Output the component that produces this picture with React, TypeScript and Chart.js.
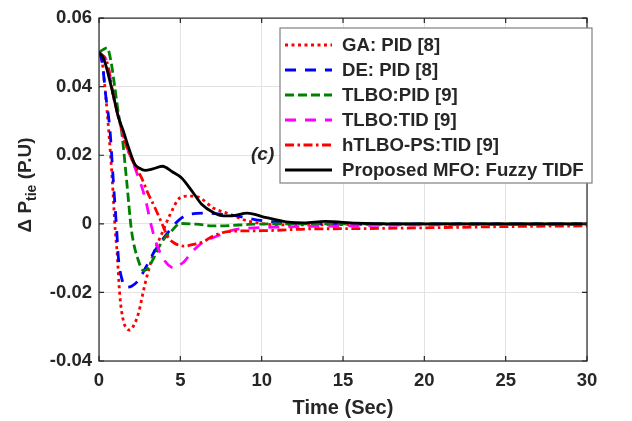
import React, { useEffect, useRef } from "react";
import { Chart, registerables } from "chart.js";
Chart.register(...registerables);

// ---- Data ----
const xTicks = [0, 5, 10, 15, 20, 25, 30];
const yTicks = [-0.04, -0.02, 0, 0.02, 0.04, 0.06];

const gaT = [0, 0.2, 0.4, 0.6, 0.82, 1.0, 1.09, 1.29, 1.49, 1.7, 1.9, 2.15, 2.42, 2.83, 3.34, 3.85, 4.4, 4.98, 5.5, 6.2, 7.0, 8.05, 9.08, 10.1, 11.5, 13, 15, 20, 25, 30];
const gaV = [0.05, 0.047, 0.038, 0.027, 0.0125, -0.002, -0.0069, -0.0214, -0.0281, -0.0305, -0.031, -0.0295, -0.0262, -0.0175, -0.0088, -0.003, 0.003, 0.0076, 0.0081, 0.0076, 0.0047, 0.0028, 0.0009, 0.0, -0.0003, -0.0003, -0.0002, -0.0001, 0, 0];

const deT = [0, 0.2, 0.4, 0.68, 0.88, 1.09, 1.19, 1.4, 1.66, 2.0, 2.42, 2.9, 3.44, 4.16, 4.98, 5.6, 6.6, 7.5, 8.46, 9.9, 11.3, 13, 15, 20, 30];
const deV = [0.05, 0.047, 0.038, 0.027, 0.0125, -0.002, -0.0098, -0.016, -0.0185, -0.0182, -0.0165, -0.0125, -0.0078, -0.003, 0.0014, 0.0028, 0.0031, 0.0028, 0.0023, 0.001, 0.0004, 0.0001, 0, 0, 0];

const tlboPidT = [0, 0.25, 0.5, 0.75, 0.98, 1.2, 1.39, 1.7, 2.0, 2.42, 2.75, 3.0, 3.34, 3.85, 4.47, 5.0, 6.0, 7.0, 8.0, 9.1, 10.5, 12, 15, 20, 30];
const tlboPidV = [0.05, 0.0508, 0.0513, 0.047, 0.0395, 0.032, 0.027, 0.0125, -0.002, -0.0107, -0.0137, -0.013, -0.0102, -0.0054, -0.002, 0.0001, -0.0001, -0.0006, -0.0005, -0.0002, 0, 0, 0, 0, 0];

const tlboTidT = [0, 0.5, 0.9, 1.2, 1.6, 2.2, 2.83, 3.24, 3.54, 4.0, 4.47, 4.7, 4.88, 5.2, 5.7, 6.5, 7.03, 8.25, 9.9, 11.3, 15, 20, 30];
const tlboTidV = [0.05, 0.047, 0.037, 0.031, 0.024, 0.0165, 0.0076, -0.001, -0.0059, -0.0105, -0.0127, -0.0129, -0.0122, -0.0112, -0.0083, -0.005, -0.004, -0.0018, -0.0011, -0.0009, -0.0006, -0.0003, -0.0002];

const htlboT = [0, 0.5, 0.9, 1.2, 1.6, 1.8, 2.2, 2.62, 3.0, 3.44, 3.85, 4.26, 4.6, 5.2, 5.9, 6.5, 7.03, 8.05, 10.1, 12.8, 15.8, 20.8, 25, 30];
const htlboV = [0.05, 0.047, 0.037, 0.031, 0.024, 0.0212, 0.017, 0.0134, 0.009, 0.0047, 0.0003, -0.004, -0.0055, -0.0065, -0.0059, -0.005, -0.0035, -0.0022, -0.002, -0.0015, -0.0014, -0.0011, -0.0008, -0.0006];

const mfoT = [0, 0.3, 0.78, 1.2, 1.5, 1.8, 2.21, 2.5, 2.83, 3.3, 3.9, 4.5, 5.08, 5.8, 6.31, 7.03, 7.64, 8.3, 9.1, 10.3, 11.5, 12.6, 13.9, 15.8, 18, 30];
const mfoV = [0.05, 0.048, 0.0395, 0.031, 0.027, 0.0225, 0.0173, 0.0162, 0.0156, 0.016, 0.0168, 0.0152, 0.0134, 0.009, 0.0057, 0.0033, 0.0023, 0.0024, 0.0031, 0.0018, 0.0006, 0.0003, 0.0007, 0.0002, 0, 0];

const labels = [
  "GA: PID [8]",
  "DE: PID [8]",
  "TLBO:PID [9]",
  "TLBO:TID [9]",
  "hTLBO-PS:TID [9]",
  "Proposed MFO: Fuzzy TIDF",
];

const TXT = "#262626";
const FONT = "'Liberation Sans', Arial, Helvetica, sans-serif";

function pts(t: number[], v: number[]) {
  return t.map((x, i) => ({ x, y: v[i] }));
}

const boxPlugin = {
  id: "boxPlugin",
  afterDatasetsDraw(chart: any) {
    const { ctx, chartArea: a, scales } = chart;
    ctx.save();
    ctx.strokeStyle = TXT;
    ctx.lineWidth = 1.2;
    ctx.strokeRect(a.left, a.top, a.right - a.left, a.bottom - a.top);
    const tl = 5;
    ctx.beginPath();
    xTicks.forEach((v) => {
      const x = scales.x.getPixelForValue(v);
      ctx.moveTo(x, a.bottom);
      ctx.lineTo(x, a.bottom - tl);
      ctx.moveTo(x, a.top);
      ctx.lineTo(x, a.top + tl);
    });
    yTicks.forEach((v) => {
      const y = scales.y.getPixelForValue(v);
      ctx.moveTo(a.left, y);
      ctx.lineTo(a.left + tl, y);
      ctx.moveTo(a.right, y);
      ctx.lineTo(a.right - tl, y);
    });
    ctx.stroke();
    ctx.restore();
  },
  afterDraw(chart: any) {
    const { ctx, chartArea: a } = chart;
    ctx.save();
    // Legend
    const lx = 280, ly = 28, lw = 312, lh = 155;
    ctx.fillStyle = "#ffffff";
    ctx.fillRect(lx, ly, lw, lh);
    ctx.strokeStyle = "#808080";
    ctx.lineWidth = 1.2;
    ctx.strokeRect(lx, ly, lw, lh);
    chart.data.datasets.forEach((ds: any, i: number) => {
      const y = 45 + i * 25;
      ctx.beginPath();
      ctx.strokeStyle = ds.borderColor;
      ctx.lineWidth = ds.borderWidth;
      ctx.setLineDash(ds.borderDash || []);
      ctx.moveTo(285, y);
      ctx.lineTo(332, y);
      ctx.stroke();
      ctx.setLineDash([]);
      ctx.fillStyle = TXT;
      ctx.font = `bold 18.6px ${FONT}`;
      ctx.textAlign = "left";
      ctx.textBaseline = "middle";
      ctx.fillText(ds.label, 342, y + 1);
    });
    // (c) annotation
    ctx.font = `italic bold 19px ${FONT}`;
    ctx.fillStyle = TXT;
    ctx.textAlign = "left";
    ctx.textBaseline = "middle";
    ctx.fillText("(c)", 251, 155);
    // X title
    ctx.font = `bold 20px ${FONT}`;
    ctx.textAlign = "center";
    ctx.fillText("Time (Sec)", (a.left + a.right) / 2, 408);
    // Y title with subscript
    ctx.translate(25, 185);
    ctx.rotate(-Math.PI / 2);
    const big = `bold 19px ${FONT}`;
    const small = `bold 14px ${FONT}`;
    const p1 = "\u0394 P";
    const p2 = "tie";
    const p3 = " (P.U)";
    ctx.font = big;
    const w1 = ctx.measureText(p1).width;
    const w3 = ctx.measureText(p3).width;
    ctx.font = small;
    const w2 = ctx.measureText(p2).width;
    let x0 = -(w1 + w2 + w3) / 2;
    ctx.textAlign = "left";
    ctx.textBaseline = "alphabetic";
    ctx.font = big;
    ctx.fillText(p1, x0, 6);
    x0 += w1;
    ctx.font = small;
    ctx.fillText(p2, x0, 11);
    x0 += w2;
    ctx.font = big;
    ctx.fillText(p3, x0, 6);
    ctx.restore();
  },
};

export default function App() {
  const ref = useRef<HTMLCanvasElement | null>(null);
  useEffect(() => {
    if (!ref.current) return;
    const common = { pointRadius: 0, borderWidth: 2.8, fill: false, cubicInterpolationMode: "monotone" as const };
    const chart = new Chart(ref.current, {
      type: "line",
      data: {
        datasets: [
          { ...common, label: labels[0], data: pts(gaT, gaV), borderColor: "#ff0000", borderDash: [3, 3.5], order: 6 },
          { ...common, label: labels[1], data: pts(deT, deV), borderColor: "#0000ff", borderDash: [11, 9], order: 5 },
          { ...common, label: labels[2], data: pts(tlboPidT, tlboPidV), borderColor: "#008000", borderDash: [9, 4], order: 4 },
          { ...common, label: labels[3], data: pts(tlboTidT, tlboTidV), borderColor: "#ff00ff", borderDash: [11, 9], order: 3 },
          { ...common, label: labels[4], data: pts(htlboT, htlboV), borderColor: "#ff0000", borderDash: [9, 3.5, 2.5, 3.5], order: 2 },
          { ...common, label: labels[5], data: pts(mfoT, mfoV), borderColor: "#000000", borderDash: [], order: 1 },
        ],
      },
      options: {
        responsive: false,
        animation: false,
        devicePixelRatio: 1,
        layout: { padding: { left: 0, top: 16, right: 45, bottom: 0 } },
        plugins: { legend: { display: false }, tooltip: { enabled: false } },
        scales: {
          x: {
            type: "linear",
            min: 0,
            max: 30,
            afterFit: (s: any) => { s.height = 60; },
            afterBuildTicks: (s: any) => { s.ticks = xTicks.map((v) => ({ value: v })); },
            grid: { color: "#e3e3e3", lineWidth: 1, drawTicks: false },
            border: { display: false },
            ticks: { padding: 9, color: TXT, font: { family: FONT, size: 18.5, weight: "bold" }, maxRotation: 0 },
          },
          y: {
            type: "linear",
            min: -0.04,
            max: 0.06,
            afterFit: (s: any) => { s.width = 99; },
            afterBuildTicks: (s: any) => { s.ticks = yTicks.map((v) => ({ value: v })); },
            grid: { color: "#e3e3e3", lineWidth: 1, drawTicks: false },
            border: { display: false },
            ticks: {
              padding: 7,
              color: TXT,
              font: { family: FONT, size: 18.5, weight: "bold" },
              callback: (v: any) => {
                const r = Math.round(Number(v) * 100) / 100;
                return r === 0 ? "0" : r.toFixed(2);
              },
            },
          },
        },
      },
      plugins: [boxPlugin],
    });
    return () => chart.destroy();
  }, []);
  return (
    <div style={{ position: "absolute", left: 0, top: 0, width: 632, height: 421, background: "#fff" }}>
      <canvas ref={ref} width={632} height={421} style={{ display: "block" }} />
    </div>
  );
}
